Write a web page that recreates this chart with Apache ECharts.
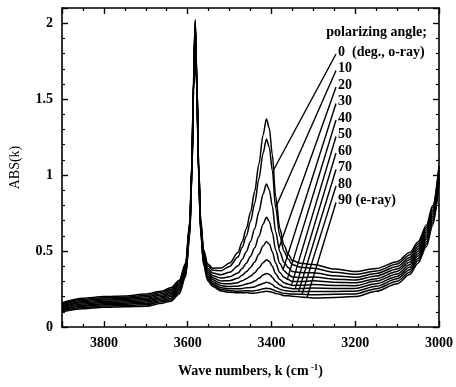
<!DOCTYPE html>
<html>
<head>
<meta charset="utf-8">
<script src="https://cdn.jsdelivr.net/npm/echarts@6/dist/echarts.min.js"></script>
<style>
html,body{margin:0;padding:0;background:#fff;}
#chart{width:456px;height:387px;}
</style>
</head>
<body>
<div id="chart"></div>
<script>
// Wave numbers (cm^-1)
var waveNumbers = [3900,3850,3800,3750,3700,3660,3640,3620,3605,3595,3590,3586,3582,3578,3574,3569,3562,3552,3540,3520,3500,3480,3470,3460,3450,3440,3430,3420,3412,3405,3398,3390,3380,3370,3360,3350,3330,3300,3250,3200,3150,3100,3070,3050,3030,3015,3000];

// ABS(k) for each polarizing angle
var abs0  = [.160,.190,.200,.204,.217,.237,.260,.308,.420,.693,1.078,1.634,2.025,1.639,1.093,.713,.509,.415,.387,.389,.421,.490,.562,.646,.755,.893,1.073,1.264,1.370,1.306,1.137,.861,.649,.538,.479,.437,.419,.412,.381,.365,.385,.430,.490,.560,.670,.800,1.060];
var abs10 = [.153,.182,.192,.196,.208,.228,.250,.298,.410,.683,1.068,1.624,2.015,1.629,1.083,.703,.497,.403,.373,.371,.399,.460,.524,.598,.694,.815,.975,1.144,1.238,1.182,1.031,.787,.599,.499,.448,.410,.394,.387,.360,.347,.368,.414,.474,.544,.654,.786,1.048];
var abs20 = [.147,.174,.184,.188,.199,.219,.240,.288,.400,.673,1.058,1.614,2.005,1.619,1.073,.693,.485,.387,.355,.344,.360,.401,.445,.496,.563,.647,.758,.876,.941,.902,.797,.627,.496,.426,.391,.365,.358,.357,.337,.327,.352,.398,.458,.529,.639,.771,1.036];
var abs30 = [.140,.167,.177,.181,.190,.210,.230,.278,.390,.663,1.048,1.604,1.995,1.609,1.063,.683,.472,.373,.338,.322,.330,.356,.385,.420,.465,.521,.597,.677,.722,.695,.624,.507,.418,.371,.347,.329,.326,.329,.315,.309,.335,.382,.442,.513,.623,.757,1.023];
var abs40 = [.133,.159,.169,.173,.181,.201,.220,.268,.380,.653,1.038,1.594,1.985,1.599,1.053,.673,.461,.360,.324,.303,.305,.321,.340,.363,.392,.428,.479,.533,.563,.545,.497,.419,.359,.327,.312,.300,.299,.304,.294,.291,.318,.366,.426,.498,.608,.742,1.011];
var abs50 = [.127,.151,.161,.165,.173,.193,.210,.258,.370,.643,1.028,1.584,1.975,1.589,1.043,.663,.450,.348,.311,.286,.284,.292,.304,.318,.334,.357,.389,.423,.442,.431,.400,.351,.313,.291,.282,.274,.275,.279,.274,.272,.302,.349,.409,.482,.592,.728,.999];
var abs60 = [.120,.143,.153,.157,.164,.184,.200,.248,.360,.633,1.018,1.574,1.965,1.579,1.033,.653,.439,.336,.298,.272,.266,.269,.275,.283,.290,.302,.321,.342,.353,.346,.328,.299,.276,.262,.257,.252,.253,.256,.254,.254,.285,.333,.393,.467,.577,.713,.987];
var abs70 = [.113,.136,.146,.150,.155,.175,.190,.238,.350,.623,1.008,1.564,1.955,1.569,1.023,.643,.429,.325,.287,.259,.252,.251,.254,.258,.260,.264,.276,.287,.294,.290,.279,.262,.249,.240,.237,.234,.233,.233,.234,.236,.268,.317,.377,.451,.561,.699,.974];
var abs80 = [.107,.128,.138,.142,.146,.166,.180,.228,.340,.613,.998,1.554,1.945,1.559,1.013,.633,.418,.315,.276,.247,.239,.236,.237,.239,.237,.238,.244,.251,.255,.253,.247,.237,.229,.221,.219,.217,.215,.212,.215,.218,.252,.301,.361,.436,.546,.684,.962];
var abs90 = [.100,.120,.130,.134,.137,.157,.170,.218,.330,.603,.988,1.544,1.935,1.549,1.003,.623,.408,.305,.266,.237,.228,.225,.225,.227,.223,.222,.227,.232,.235,.233,.228,.221,.215,.206,.205,.203,.197,.191,.195,.200,.235,.285,.345,.420,.530,.670,.950];

var allCurves = [abs0,abs10,abs20,abs30,abs40,abs50,abs60,abs70,abs80,abs90];
var angleLabels = ['0  (deg., o-ray)','10','20','30','40','50','60','70','80','90 (e-ray)'];
var legendTitle = 'polarizing angle;';
// wave number on each curve where its leader line ends
var leaderAt = [3395,3390,3382,3372,3362,3352,3343,3335,3327,3315];

var xTicks = [3000,3200,3400,3600,3800];
var yTicks = [0,0.5,1,1.5,2];

var FONT = 'Liberation Serif';
var chart = echarts.init(document.getElementById('chart'), null, {renderer:'canvas'});

var axisCommon = {
  axisLine:{show:true, onZero:false, lineStyle:{color:'#000', width:1.6}},
  axisTick:{show:true, inside:true, length:6, lineStyle:{color:'#000', width:1.4}},
  minorTick:{show:true, length:3, lineStyle:{color:'#000', width:1.2}},
  splitLine:{show:false}
};

function xAxisDef(pos, showLabel){
  return Object.assign({
    type:'value', position:pos, inverse:true, min:3000, max:3900, interval:200,
    axisLabel:{show:showLabel, color:'#000', fontFamily:FONT, fontSize:14, fontWeight:'bold', margin:9,
      formatter:function(v){ return xTicks.indexOf(v)>=0 ? String(v) : ''; }},
    name: showLabel ? 'Wave numbers, k (cm{sup| -1})' : '',
    nameLocation:'middle', nameGap:36,
    nameTextStyle:{color:'#000', fontFamily:FONT, fontSize:14, fontWeight:'bold',
      rich:{sup:{fontFamily:FONT, fontSize:9, fontWeight:'bold', verticalAlign:'top', padding:[0,0,8,0]}}}
  }, axisCommon, {minorTick:Object.assign({}, axisCommon.minorTick, {splitNumber:4})});
}
function yAxisDef(pos, showLabel){
  return Object.assign({
    type:'value', position:pos, min:0, max:2.1, interval:0.5,
    axisLabel:{show:showLabel, color:'#000', fontFamily:FONT, fontSize:14, fontWeight:'bold', margin:9,
      formatter:function(v){ return yTicks.indexOf(v)>=0 ? String(v) : ''; }},
    name: showLabel ? 'ABS(k)' : '',
    nameLocation:'middle', nameGap:40,
    nameTextStyle:{color:'#000', fontFamily:FONT, fontSize:14}
  }, axisCommon, {minorTick:Object.assign({}, axisCommon.minorTick, {splitNumber:5})});
}

var series = allCurves.map(function(arr, i){
  return {
    type:'line', xAxisIndex:0, yAxisIndex:0, name:angleLabels[i],
    data: waveNumbers.map(function(x,j){ return [x, arr[j]]; }),
    showSymbol:false, smooth:0.3, smoothMonotone:'x',
    lineStyle:{color:'#000', width:1.5}, silent:true, animation:false
  };
});

chart.setOption({
  animation:false,
  grid:{left:61, right:15, top:8, bottom:60, containLabel:false},
  xAxis:[xAxisDef('bottom', true), xAxisDef('top', false)],
  yAxis:[yAxisDef('left', true), yAxisDef('right', false)],
  series:series
});

function valueOn(curve, x){
  for (var j=0;j<waveNumbers.length-1;j++){
    var a=waveNumbers[j], b=waveNumbers[j+1];
    if ((x<=a && x>=b)){
      var t=(a-x)/(a-b);
      return curve[j]+(curve[j+1]-curve[j])*t;
    }
  }
  return curve[0];
}

var graphics = [];
var labelX = 338, labelY0 = 52, labelDy = 16.5;
graphics.push({type:'text', right:456-427, top:33-8, style:{text:legendTitle, fill:'#000', font:'bold 14px "'+FONT+'"'}});
angleLabels.forEach(function(t,i){
  var ly = labelY0 + labelDy*i;
  graphics.push({type:'text', x:labelX, y:ly, style:{text:t, fill:'#000', font:'bold 14px "'+FONT+'"', textVerticalAlign:'middle', textAlign:'left'}});
  var xv = leaderAt[i];
  var p = chart.convertToPixel({xAxisIndex:0, yAxisIndex:0}, [xv, valueOn(allCurves[i], xv)]);
  graphics.push({type:'line', shape:{x1:labelX-2, y1:ly+2, x2:p[0], y2:p[1]}, style:{stroke:'#000', lineWidth:1.4}});
});
chart.setOption({graphic:graphics});
</script>
</body>
</html>
